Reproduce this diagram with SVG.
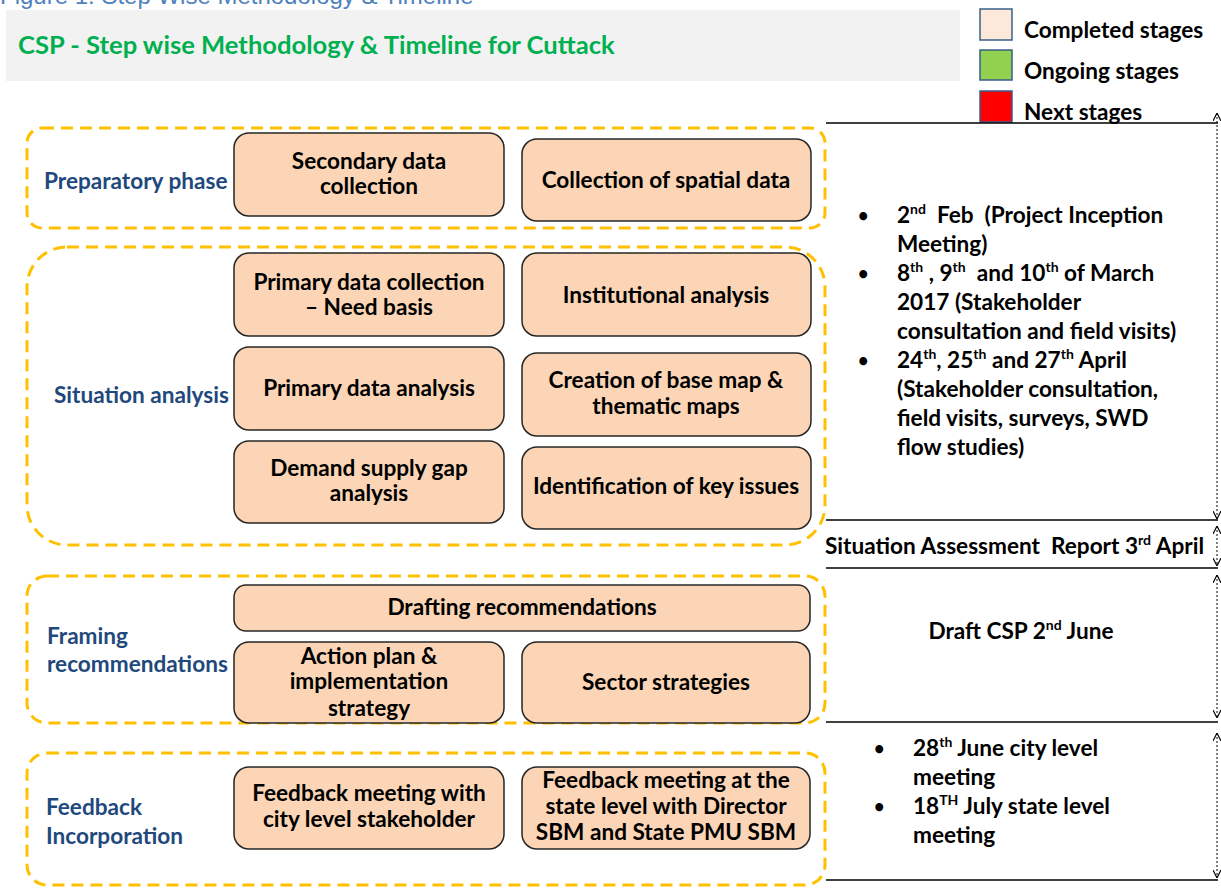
<svg xmlns="http://www.w3.org/2000/svg" width="1221" height="888" viewBox="0 0 1221 888">
<defs>
<style>
text{font-family:Lato,"Open Sans","Liberation Sans",sans-serif;font-weight:bold;font-size:22.6px;fill:#000;white-space:pre}
.node rect{fill:#fbd5b5;stroke:#262626;stroke-width:1.5}
.node text{text-anchor:middle}
.grp{fill:none;stroke:#ffc000;stroke-width:3;stroke-dasharray:12 7}
.glabel{fill:#1f497d}
.hl{stroke:#000;stroke-width:1.5}
.arr{stroke:#000;stroke-width:1;stroke-dasharray:2 2;fill:none;marker-start:url(#ah);marker-end:url(#ah)}
.sup{font-size:14px}
.bul{font-size:18px}
</style>
<marker id="ah" viewBox="0 0 10 10" refX="10" refY="5" markerWidth="8" markerHeight="8" markerUnits="userSpaceOnUse" orient="auto-start-reverse">
<path d="M0,0 L10,5 L0,10" fill="none" stroke="#000" stroke-width="1.5"/>
</marker>
</defs>
<rect width="1221" height="888" fill="#fff"/>
<text x="0" y="4" style="font-family:'Liberation Sans',sans-serif;font-weight:normal;font-size:24px;fill:#4f81bd">Figure 1: Step Wise Methodology &amp; Timeline</text>
<rect x="6" y="10" width="954" height="71" fill="#f2f2f2"/>
<text x="18" y="54" style="fill:#00b050;font-size:25.6px">CSP - Step wise Methodology &amp; Timeline for Cuttack</text>

<g id="legend">
<rect x="980" y="9" width="32" height="31" fill="#fde9d9" stroke="#385d8a" stroke-width="1.5"/>
<rect x="980" y="50" width="32" height="30" fill="#92d050" stroke="#385d8a" stroke-width="1.5"/>
<rect x="980" y="91" width="32" height="31" fill="#ff0000" stroke="#385d8a" stroke-width="1.5"/>
<text x="1024" y="38">Completed stages</text>
<text x="1024" y="79">Ongoing stages</text>
<text x="1024" y="120">Next stages</text>
</g>

<g id="groups">
<rect id="g-prep" class="grp" x="27" y="128" width="798" height="100" rx="15"/>
<rect id="g-sit" class="grp" x="27" y="247" width="798" height="298" rx="40"/>
<rect id="g-frame" class="grp" x="27" y="576" width="798" height="147" rx="20"/>
<rect id="g-feed" class="grp" x="27" y="753" width="798" height="132" rx="20"/>
<text class="glabel" x="44" y="189">Preparatory phase</text>
<text class="glabel" x="54" y="403">Situation analysis</text>
<text class="glabel" x="47" y="644">Framing</text>
<text class="glabel" x="47" y="672">recommendations</text>
<text class="glabel" x="46" y="815">Feedback</text>
<text class="glabel" x="46" y="844">Incorporation</text>
</g>

<g id="n1" class="node"><rect x="234" y="133" width="270" height="83" rx="15"/><text x="369" y="169">Secondary data</text><text x="369" y="194">collection</text></g>
<g id="n2" class="node"><rect x="522" y="139" width="289" height="82" rx="15"/><text x="666" y="188">Collection of spatial data</text></g>
<g id="n3" class="node"><rect x="234" y="253" width="270" height="83" rx="15"/><text x="369" y="290">Primary data collection</text><text x="369" y="315">– Need basis</text></g>
<g id="n4" class="node"><rect x="522" y="253" width="289" height="83" rx="15"/><text x="666" y="303">Institutional analysis</text></g>
<g id="n5" class="node"><rect x="234" y="347" width="270" height="83" rx="15"/><text x="369" y="396">Primary data analysis</text></g>
<g id="n6" class="node"><rect x="522" y="353" width="289" height="83" rx="15"/><text x="666" y="388">Creation of base map &amp;</text><text x="666" y="414">thematic maps</text></g>
<g id="n7" class="node"><rect x="234" y="441" width="270" height="82" rx="15"/><text x="369" y="476">Demand supply gap</text><text x="369" y="501">analysis</text></g>
<g id="n8" class="node"><rect x="522" y="447" width="289" height="82" rx="15"/><text x="666" y="494">Identification of key issues</text></g>
<g id="n9" class="node"><rect x="234" y="585" width="576" height="46" rx="12"/><text x="522" y="615">Drafting recommendations</text></g>
<g id="n10" class="node"><rect x="234" y="642" width="270" height="81" rx="15"/><text x="369" y="664">Action plan &amp;</text><text x="369" y="689">implementation</text><text x="369" y="716">strategy</text></g>
<g id="n11" class="node"><rect x="522" y="642" width="288" height="81" rx="15"/><text x="666" y="690">Sector strategies</text></g>
<g id="n12" class="node"><rect x="234" y="767" width="270" height="82" rx="15"/><text x="369" y="801">Feedback meeting with</text><text x="369" y="827">city level stakeholder</text></g>
<g id="n13" class="node"><rect x="522" y="767" width="288" height="82" rx="15"/><text x="666" y="788">Feedback meeting at the</text><text x="666" y="814">state level with Director</text><text x="666" y="840">SBM and State PMU SBM</text></g>

<g id="timeline">
<line class="hl" x1="826" y1="123" x2="1218" y2="123"/>
<line class="hl" x1="826" y1="520" x2="1218" y2="520"/>
<line class="hl" x1="826" y1="568" x2="1218" y2="568"/>
<line class="hl" x1="826" y1="722" x2="1218" y2="722"/>
<line class="hl" x1="826" y1="880" x2="1218" y2="880"/>
<text class="bul" x="858" y="222">•</text>
<text x="897" y="223">2<tspan class="sup" dy="-9">nd</tspan><tspan dy="9">  Feb  (Project Inception</tspan></text>
<text x="897" y="252">Meeting)</text>
<text class="bul" x="858" y="280">•</text>
<text x="897" y="281">8<tspan class="sup" dy="-9">th</tspan><tspan dy="9"> , 9</tspan><tspan class="sup" dy="-9">th</tspan><tspan dy="9">  and 10</tspan><tspan class="sup" dy="-9">th</tspan><tspan dy="9"> of March</tspan></text>
<text x="897" y="310">2017 (Stakeholder</text>
<text x="897" y="339">consultation and field visits)</text>
<text class="bul" x="858" y="367">•</text>
<text x="897" y="368">24<tspan class="sup" dy="-9">th</tspan><tspan dy="9">, 25</tspan><tspan class="sup" dy="-9">th</tspan><tspan dy="9"> and 27</tspan><tspan class="sup" dy="-9">th</tspan><tspan dy="9"> April</tspan></text>
<text x="897" y="397">(Stakeholder consultation,</text>
<text x="897" y="426">field visits, surveys, SWD</text>
<text x="897" y="455">flow studies)</text>
<text x="825" y="554">Situation Assessment  Report 3<tspan class="sup" dy="-9">rd</tspan><tspan dy="9"> April</tspan></text>
<text x="1021" y="639" text-anchor="middle">Draft CSP 2<tspan class="sup" dy="-9">nd</tspan><tspan dy="9"> June</tspan></text>
<text class="bul" x="874" y="755">•</text>
<text x="913" y="756">28<tspan class="sup" dy="-9">th</tspan><tspan dy="9"> June city level</tspan></text>
<text x="913" y="785">meeting</text>
<text class="bul" x="874" y="813">•</text>
<text x="913" y="814">18<tspan class="sup" dy="-9">TH</tspan><tspan dy="9"> July state level</tspan></text>
<text x="913" y="843">meeting</text>
</g>

<g id="connectors">
<line class="arr" x1="1217" y1="113" x2="1217" y2="519"/>
<line class="arr" x1="1217" y1="526" x2="1217" y2="566"/>
<line class="arr" x1="1217" y1="575" x2="1217" y2="718"/>
<line class="arr" x1="1217" y1="733" x2="1217" y2="878"/>
</g>
</svg>
